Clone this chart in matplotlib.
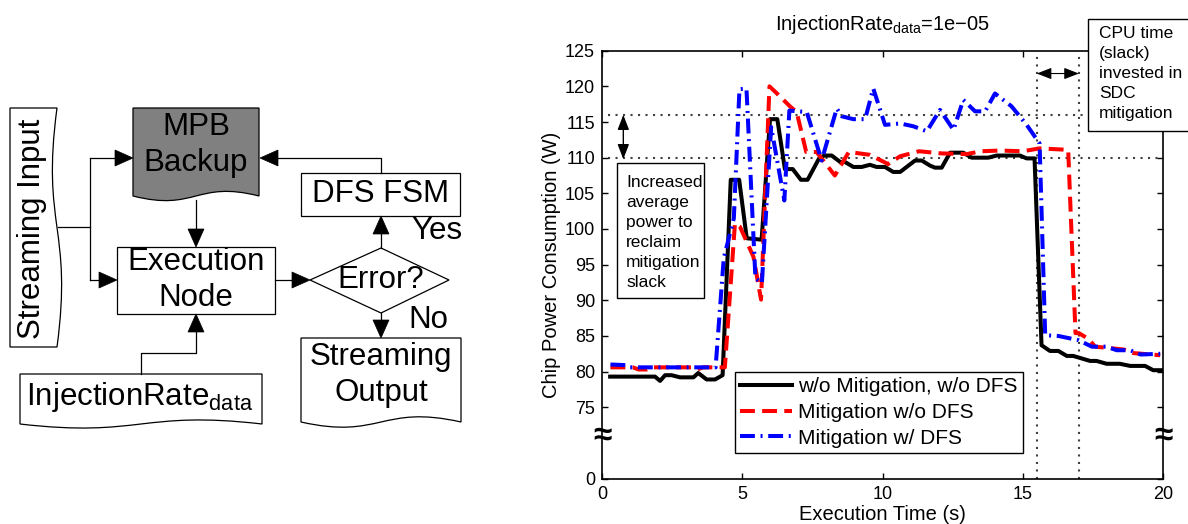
import matplotlib
matplotlib.use('Agg')
import matplotlib.pyplot as plt
from matplotlib.patches import Rectangle, Polygon, PathPatch
from matplotlib.path import Path

plt.rcParams['font.family'] = ['Liberation Sans', 'DejaVu Sans']
plt.rcParams['mathtext.fontset'] = 'custom'
plt.rcParams['mathtext.rm'] = 'Liberation Sans'
plt.rcParams['mathtext.it'] = 'Liberation Sans:italic'

# ---- chart data ----
# w/o Mitigation, w/o DFS
t_base = [0.29, 1.89, 2.07, 2.25, 2.48, 2.78, 3.26, 3.43, 3.73, 4.03,
          4.30, 4.59, 4.89, 5.16, 5.69, 5.99, 6.25, 6.52, 6.80, 7.09,
          7.33, 7.74, 7.92, 8.19, 8.49, 8.66, 8.96, 9.26, 9.55, 9.79,
          10.09, 10.38, 10.63, 11.16, 11.40, 11.69, 11.87, 12.11, 12.41, 12.88,
          13.18, 13.77, 14.07, 14.90, 15.14, 15.42, 15.67, 15.97, 16.27, 16.57,
          16.80, 17.40, 17.63, 17.99, 18.46, 18.83, 19.36, 19.65, 20.0]
p_base = [79.3, 79.3, 78.7, 79.5, 79.5, 79.2, 79.2, 79.8, 78.9, 78.9,
          79.5, 106.9, 106.9, 98.7, 98.5, 115.4, 115.4, 108.4, 108.4, 106.9,
          106.9, 109.9, 110.3, 110.3, 109.4, 109.4, 108.7, 108.7, 109.0, 108.7,
          108.7, 108.0, 108.0, 109.6, 109.6, 108.9, 108.6, 108.6, 110.7, 110.7,
          110.0, 110.0, 110.3, 110.3, 109.9, 109.9, 83.7, 82.9, 82.9, 82.2,
          82.2, 81.5, 81.5, 81.1, 81.1, 80.8, 80.8, 80.2, 80.2]

# Mitigation w/o DFS
t_mit = [0.30, 1.10, 1.30, 1.60, 1.80, 3.20, 3.40, 3.60, 4.38, 4.74,
         4.92, 5.40, 5.67, 5.97, 6.29, 6.70, 6.94, 7.28, 7.65, 8.30,
         8.80, 9.55, 10.20, 10.63, 11.30, 12.10, 13.00, 13.50, 14.20, 15.00,
         15.60, 16.62, 16.88, 17.00, 17.34, 17.58, 18.10, 18.60, 18.94, 19.90]
p_mit = [80.6, 80.6, 80.3, 80.3, 80.6, 80.6, 80.3, 80.6, 80.6, 100.8,
         100.3, 96.1, 90.1, 120.0, 118.8, 117.2, 116.4, 110.8, 110.8, 107.5,
         110.8, 110.4, 109.1, 110.2, 110.9, 110.6, 110.5, 110.9, 111.0, 110.9,
         111.3, 111.1, 85.4, 85.4, 84.6, 83.5, 83.3, 83.1, 82.6, 82.3]

# Mitigation w/ DFS
t_dfs = [0.30, 0.90, 1.00, 4.05, 4.34, 4.70, 4.90, 5.15, 5.47, 5.70,
         6.03, 6.50, 6.68, 7.30, 7.83, 8.37, 8.55, 8.96, 9.38, 9.67,
         10.09, 10.63, 11.10, 11.58, 12.05, 12.53, 12.88, 13.30, 13.66, 14.01,
         14.60, 15.14, 15.60, 15.80, 16.27, 17.00, 17.46, 17.99, 18.35, 18.83,
         19.20, 19.90]
p_dfs = [81.0, 80.9, 80.6, 80.6, 95.9, 101.5, 119.6, 119.7, 93.1, 92.4,
         114.3, 104.0, 116.6, 116.4, 109.6, 116.9, 115.8, 115.4, 115.4, 119.7,
         114.6, 114.8, 114.4, 113.7, 116.7, 113.9, 118.1, 116.5, 116.5, 119.0,
         117.2, 114.6, 112.0, 85.1, 85.0, 84.4, 83.5, 83.5, 83.0, 83.0,
         82.4, 82.5]

series_labels = ['w/o Mitigation, w/o DFS', 'Mitigation w/o DFS', 'Mitigation w/ DFS']

x_ticks = [0, 5, 10, 15, 20]
y_ticks = [65, 75, 80, 85, 90, 95, 100, 105, 110, 115, 120, 125]
y_tick_labels = ['0', '75', '80', '85', '90', '95', '100', '105', '110', '115', '120', '125']

ref_power = [116, 110]       # horizontal dotted lines
ref_time = [15.5, 17.0]      # vertical dotted lines
break_at = 71                # axis-break mark

fig = plt.figure(figsize=(11.88, 5.24), dpi=100)

# ---- right: power plot ----
ax = fig.add_axes([602/1188, 1 - 478.6/524, 561/1188, 427.9/524])

for yv in ref_power:
    ax.plot([0.2, 20], [yv, yv], ls=(0, (1, 2.6)), color='0.25', lw=1.5, zorder=1)
for xv in ref_time:
    ax.plot([xv, xv], [65, 124.2], ls=(0, (1, 2.6)), color='0.25', lw=1.5, zorder=1)

ax.plot(t_base, p_base, color='k', lw=2.9, label=series_labels[0], zorder=3)
ax.plot(t_mit, p_mit, color='r', lw=2.9, ls=(0, (3.7, 1.8)), label=series_labels[1], zorder=3)
ax.plot(t_dfs, p_dfs, color='b', lw=2.9, ls=(0, (3.7, 1.4, 0.5, 1.4)), label=series_labels[2], zorder=3)

ax.set_xlim(0, 20)
ax.set_ylim(65, 125)
ax.set_xticks(x_ticks)
ax.set_yticks(y_ticks)
ax.set_yticklabels(y_tick_labels)
ax.tick_params(direction='in', length=4, width=1, top=True, right=True, labelsize=13, pad=5)
for sp in ax.spines.values():
    sp.set_linewidth(1.2)

ax.set_xlabel('Execution Time (s)', fontsize=14.5, labelpad=2)
ax.set_ylabel('Chip Power Consumption (W)', fontsize=14.5, labelpad=3)
ax.set_title('InjectionRate$_{\\mathrm{data}}$=1e\u221205', fontsize=14.5, pad=15)

# axis-break marks
for xa in (0, 1):
    ax.text(xa, break_at, '\u2248', transform=ax.get_yaxis_transform(), fontsize=24,
            fontweight='bold', ha='center', va='center', clip_on=False, zorder=6)

# annotations
ax.annotate('', xy=(0.76, 116), xytext=(0.76, 109.8),
            arrowprops=dict(arrowstyle='<|-|>,head_length=0.9,head_width=0.35',
                            color='k', lw=1, shrinkA=0, shrinkB=0))
ax.add_patch(Rectangle((0.53, 90.3), 3.11, 18.96, fc='white', ec='k', lw=1, zorder=6))
ax.text(0.86, 107.6, 'Increased\naverage\npower to\nreclaim\nmitigation\nslack',
        fontsize=12.5, ha='left', va='top', linespacing=1.42, zorder=7)

ax.annotate('', xy=(15.5, 121.8), xytext=(17.0, 121.8),
            arrowprops=dict(arrowstyle='<|-|>,head_length=0.9,head_width=0.35',
                            color='k', lw=0.8, shrinkA=0, shrinkB=0))
ax.add_patch(Rectangle((17.33, 113.75), 3.6, 15.7, fc='white', ec='k', lw=1,
                       zorder=6, clip_on=False))
ax.text(17.72, 128.5, 'CPU time\n(slack)\ninvested in\nSDC\nmitigation',
        fontsize=12.5, ha='left', va='top', linespacing=1.43, zorder=7, clip_on=False)

leg = ax.legend(loc='lower left', bbox_to_anchor=(0.237, 0.060), fontsize=15,
                fancybox=False, edgecolor='k', framealpha=1, borderaxespad=0,
                handlelength=2.5, labelspacing=0.33, borderpad=0.25, handletextpad=0.3)
leg.get_frame().set_linewidth(1.0)

# ---- left: flow chart (pixel coordinates) ----
ov = fig.add_axes([0, 0, 1, 1])
ov.set_xlim(0, 1188)
ov.set_ylim(524, 0)
ov.axis('off')

FS = 22.5


def doc_shape(x0, x1, y0, y1, amp, fc='white'):
    w = x1 - x0
    verts = [(x0, y0), (x1, y0), (x1, y1),
             (x0 + 0.5 * w, y1 - 2 * amp), (x0 + 0.5 * w, y1 + 2 * amp), (x0, y1),
             (x0, y0)]
    codes = [Path.MOVETO, Path.LINETO, Path.LINETO,
             Path.CURVE4, Path.CURVE4, Path.CURVE4, Path.CLOSEPOLY]
    ov.add_patch(PathPatch(Path(verts, codes), fc=fc, ec='k', lw=0.9))


def doc_side(x0, x1, y0, y1, amp):
    h = y1 - y0
    verts = [(x0, y0), (x1, y0),
             (x1 - 2 * amp, y0 + 0.5 * h), (x1 + 2 * amp, y0 + 0.5 * h), (x1, y1),
             (x0, y1), (x0, y0)]
    codes = [Path.MOVETO, Path.LINETO,
             Path.CURVE4, Path.CURVE4, Path.CURVE4,
             Path.LINETO, Path.CLOSEPOLY]
    ov.add_patch(PathPatch(Path(verts, codes), fc='white', ec='k', lw=0.9))


def head(tx, ty, d, L=18, W=16):
    dx, dy = {'r': (1, 0), 'l': (-1, 0), 'u': (0, -1), 'd': (0, 1)}[d]
    bx, by = tx - dx * L, ty - dy * L
    px, py = -dy, dx
    ov.add_patch(Polygon([(tx, ty), (bx + px * W / 2, by + py * W / 2),
                          (bx - px * W / 2, by - py * W / 2)],
                         closed=True, fc='k', ec='k', lw=0.5))


def line(xs, ys):
    ov.plot(xs, ys, color='k', lw=0.9)


# shapes
doc_side(10, 57, 108, 347, 8)
ov.text(32, 229, 'Streaming Input', fontsize=FS, rotation=90, ha='center', va='center')

doc_shape(133, 259, 108, 196, 8, fc='#808080')
ov.text(196, 127, 'MPB', fontsize=FS, ha='center', va='center')
ov.text(196, 163, 'Backup', fontsize=FS, ha='center', va='center')

ov.add_patch(Rectangle((117, 247), 158, 67, fc='white', ec='k', lw=0.9))
ov.text(196, 262, 'Execution', fontsize=FS, ha='center', va='center')
ov.text(196, 298, 'Node', fontsize=FS, ha='center', va='center')

ov.add_patch(Polygon([(310, 280), (381, 248), (449, 280), (381, 313)], closed=True,
                     fc='white', ec='k', lw=0.9))
ov.text(381, 280, 'Error?', fontsize=FS, ha='center', va='center')

ov.add_patch(Rectangle((301, 173), 159, 43, fc='white', ec='k', lw=0.9))
ov.text(381, 194, 'DFS FSM', fontsize=FS, ha='center', va='center')

doc_shape(301, 461, 338, 422, 9)
ov.text(381, 357, 'Streaming', fontsize=FS, ha='center', va='center')
ov.text(381, 393, 'Output', fontsize=FS, ha='center', va='center')

doc_shape(20, 262, 374, 424, 7)
ov.text(140, 397, 'InjectionRate$_{\\mathrm{data}}$', fontsize=FS, ha='center', va='center')

ov.text(437, 231, 'Yes', fontsize=FS, ha='center', va='center')
ov.text(428, 320, 'No', fontsize=FS, ha='center', va='center')

# connectors
line([58, 90], [227, 227])
line([90, 90], [158, 280])
line([90, 118], [158, 158]); head(133, 158, 'r')
line([90, 102], [280, 280]); head(117, 280, 'r')
line([196, 196], [200, 232]); head(196, 247, 'd')
line([275, 295], [280, 280]); head(310, 280, 'r')
line([381, 381], [248, 232]); head(381, 216, 'u')
line([381, 381, 275], [173, 158, 158]); head(260, 158, 'l')
line([381, 381], [313, 322]); head(381, 338, 'd')
line([141, 141, 196, 196], [374, 353, 353, 330]); head(196, 314, 'u')

fig.savefig('out.png', dpi=100)
